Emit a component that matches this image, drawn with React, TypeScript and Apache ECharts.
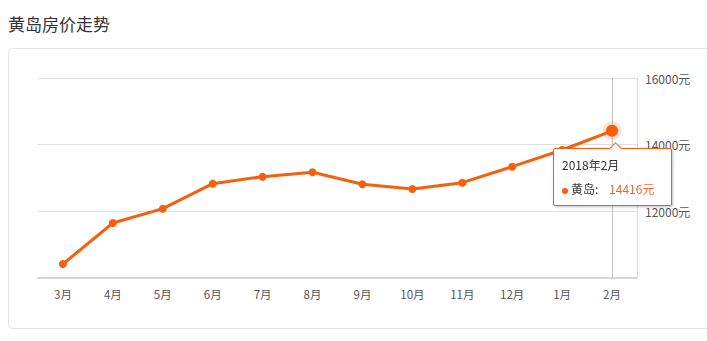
import React, { useEffect, useRef } from "react";
import * as echarts from "echarts";

const titleText = "黄岛房价走势";
const seriesName = "黄岛";
const categories = ["3月", "4月", "5月", "6月", "7月", "8月", "9月", "10月", "11月", "12月", "1月", "2月"];
const fullDates = ["2017年3月", "2017年4月", "2017年5月", "2017年6月", "2017年7月", "2017年8月", "2017年9月", "2017年10月", "2017年11月", "2017年12月", "2018年1月", "2018年2月"];
const prices = [10420, 11650, 12080, 12830, 13040, 13170, 12810, 12670, 12860, 13340, 13840, 14416];
const yMin = 10000;
const yMax = 16000;
const yInterval = 2000;
const highlightIndex = 11;

const ORANGE = "#f65f0e";

export default function App() {
  const ref = useRef<HTMLDivElement>(null);
  useEffect(() => {
    if (!ref.current) return;
    const chart = echarts.init(ref.current, undefined, { renderer: "svg" });
    chart.setOption({
      animation: false,
      title: {
        text: titleText,
        left: 3,
        top: 10,
        textStyle: { fontSize: 17, fontWeight: "normal", color: "#333", fontFamily: "'Noto Sans CJK SC', sans-serif" },
      },
      graphic: [
        {
          type: "rect",
          shape: { x: 8.5, y: 48.5, width: 720, height: 280, r: 4 },
          style: { fill: "#fff", stroke: "#e3e3e3", lineWidth: 1 },
          z: -10,
          silent: true,
        },
      ],
      grid: { left: 38, right: 70, top: 78, bottom: 63 },
      tooltip: {
        trigger: "axis",
        alwaysShowContent: true,
        transitionDuration: 0,
        backgroundColor: "#fff",
        borderColor: ORANGE,
        borderWidth: 1,
        padding: [8, 8],
        extraCssText: "border-radius:2px;box-shadow:1px 1px 3px rgba(0,0,0,0.25);overflow:visible;",
        axisPointer: { type: "line", z: 1, lineStyle: { color: "#c4c4c4", width: 1, type: "solid" } },
        position: () => [553, 148],
        formatter: (params: any) => {
          const p = Array.isArray(params) ? params[0] : params;
          const i = p.dataIndex;
          return (
            '<div style="position:relative;width:101px;font-family:\'Noto Sans CJK SC\',sans-serif;font-size:12px;color:#333;line-height:16px;">' +
            '<div style="position:absolute;left:49px;top:-13px;width:8px;height:8px;background:#fff;border-left:1px solid ' + ORANGE + ';border-top:1px solid ' + ORANGE + ';transform:rotate(45deg);"></div>' +
            '<div>' + fullDates[i] + '</div>' +
            '<div style="margin-top:8px;"><span style="display:inline-block;width:6px;height:6px;border-radius:3px;background:' + ORANGE + ';margin-right:3px;vertical-align:middle;"></span>' +
            seriesName + ':&nbsp;&nbsp;&nbsp;&nbsp;<span style="color:#f0663a;">' + p.value + '元</span></div>' +
            '</div>'
          );
        },
      },
      xAxis: {
        type: "category",
        data: categories,
        boundaryGap: true,
        axisLine: { lineStyle: { color: "#d6d6d6", width: 2 } },
        axisTick: { alignWithLabel: true, length: 4, lineStyle: { color: "#d6d6d6" } },
        axisLabel: { color: "#555", fontSize: 11.5, margin: 10, fontFamily: "'Noto Sans CJK SC', sans-serif" },
      },
      yAxis: {
        type: "value",
        position: "right",
        min: yMin,
        max: yMax,
        interval: yInterval,
        axisLine: { show: true, lineStyle: { color: "#dcdcdc", width: 1 } },
        axisTick: { show: false },
        splitLine: { lineStyle: { color: "#e0e0e0" } },
        axisLabel: {
          color: "#555",
          fontSize: 12,
          margin: 8,
          fontFamily: "'Noto Sans CJK SC', sans-serif",
          formatter: (v: number) => (v === yMin ? "" : v + "元"),
        },
      },
      series: [
        {
          name: seriesName,
          type: "line",
          data: prices.map((v, i) => (i === highlightIndex ? { value: v, symbolSize: 11 } : v)),
          symbol: "circle",
          symbolSize: 8,
          lineStyle: { color: ORANGE, width: 3 },
          itemStyle: { color: ORANGE },
          emphasis: { disabled: true },
          z: 60,
        },
        {
          name: "halo",
          type: "scatter",
          data: [[highlightIndex, prices[highlightIndex]]],
          symbol: "circle",
          symbolSize: 19,
          itemStyle: { color: "rgba(246,95,14,0.22)" },
          tooltip: { show: false },
          emphasis: { disabled: true },
          silent: true,
          z: 59,
        },
      ],
    });
    chart.dispatchAction({ type: "showTip", seriesIndex: 0, dataIndex: highlightIndex });
    return () => chart.dispose();
  }, []);
  return <div ref={ref} style={{ position: "absolute", left: 0, top: 0, width: 707, height: 341 }} />;
}
